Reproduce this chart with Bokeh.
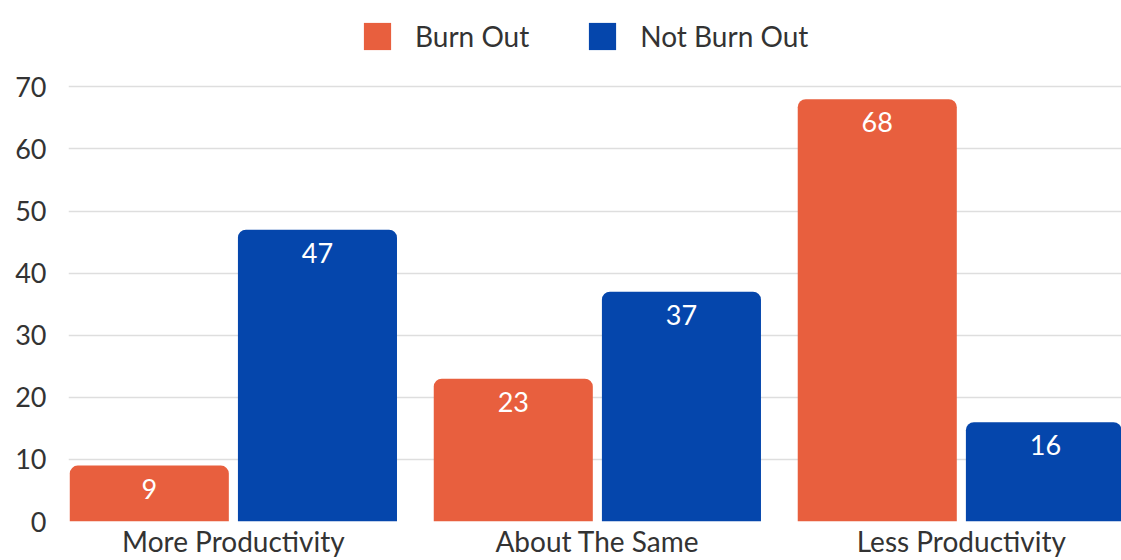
import numpy as np
from bokeh.plotting import figure
from bokeh.models import ColumnDataSource, FixedTicker, Legend, LegendItem
from bokeh.core.properties import value
from bokeh.embed import file_html
from bokeh.resources import INLINE

categories = ["More Productivity", "About The Same", "Less Productivity"]
burn_out = [9, 23, 68]
not_burn_out = [47, 37, 16]
y_ticks = [0, 10, 20, 30, 40, 50, 60, 70]

ORANGE = "#E85F3E"
BLUE = "#0546AC"
FONT = "Lato"

idx = np.arange(len(categories))
offset = 0.231
bw = 0.437

src_b = ColumnDataSource(dict(x=idx - offset, top=burn_out, lab=[str(v) for v in burn_out]))
src_n = ColumnDataSource(dict(x=idx + offset, top=not_burn_out, lab=[str(v) for v in not_burn_out]))

p = figure(width=1121, height=560, output_backend="svg", toolbar_location=None,
           x_range=(-0.453, 2.440), y_range=(0, 83.9),
           min_border_left=68, min_border_right=0, min_border_top=0, min_border_bottom=38)
p.outline_line_color = None
p.background_fill_color = "white"
p.border_fill_color = "white"

rb = p.vbar(x="x", top="top", width=bw, source=src_b, fill_color=ORANGE, line_color=None,
            border_radius=(8, 8, 0, 0))
rn = p.vbar(x="x", top="top", width=bw, source=src_n, fill_color=BLUE, line_color=None,
            border_radius=(8, 8, 0, 0))

for s in (src_b, src_n):
    p.text(x="x", y="top", text="lab", source=s, text_color="white", text_align="center",
           text_baseline="middle", y_offset=23, text_font=value(FONT), text_font_size="27px")

p.xaxis.ticker = FixedTicker(ticks=list(idx))
p.xaxis.major_label_overrides = {int(i): c for i, c in zip(idx, categories)}
p.yaxis.ticker = FixedTicker(ticks=y_ticks)
for ax in (p.xaxis[0], p.yaxis[0]):
    ax.axis_line_color = None
    ax.major_tick_line_color = None
    ax.minor_tick_line_color = None
    ax.major_tick_out = 0
    ax.major_tick_in = 0
    ax.major_label_text_font = FONT
    ax.major_label_text_color = "#333333"
p.yaxis.major_label_text_font_size = "27px"
p.xaxis.major_label_text_font_size = "28px"
p.yaxis.major_label_standoff = 22
p.xaxis.major_label_standoff = 2
p.xgrid.grid_line_color = None
p.ygrid.grid_line_color = "#dedede"
p.ygrid.grid_line_width = 1.5

legend = Legend(items=[LegendItem(label="Burn Out", renderers=[rb]),
                       LegendItem(label="Not Burn Out", renderers=[rn])],
                orientation="horizontal", location=(292, 468),
                glyph_width=34, glyph_height=34, label_standoff=21, spacing=56,
                label_text_font=FONT, label_text_font_size="28px", label_text_color="#333333",
                background_fill_alpha=0, border_line_color=None, padding=0, margin=0)
p.add_layout(legend)

open("out.html", "w").write(file_html(p, INLINE))
